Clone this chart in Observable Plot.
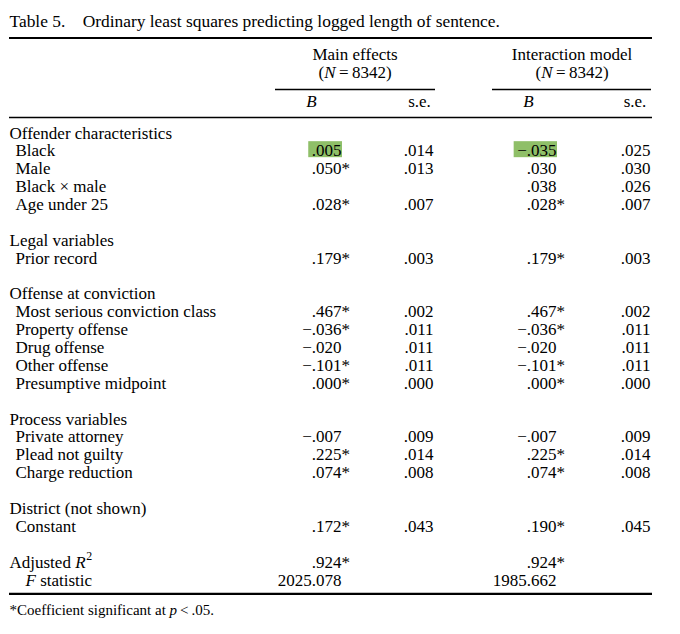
<!DOCTYPE html>
<html><head><meta charset="utf-8">
<script src="https://cdn.jsdelivr.net/npm/d3@7"></script>
<script src="https://cdn.jsdelivr.net/npm/@observablehq/plot@0.6"></script>
<style>html,body{margin:0;padding:0;background:#fff;} svg{display:block;}</style>
</head><body><div id="chart"></div>
<script>
// ---------------- DATA ----------------
const title = "Table 5.\u2003Ordinary least squares predicting logged length of sentence.";
const modelNames = ["Main effects", "Interaction model"];
const modelN = ["(_N_\u2009=\u20098342)", "(_N_\u2009=\u20098342)"];
const columnHeads = ["B", "s.e."];
const sections = ["Offender characteristics", "Legal variables", "Offense at conviction", "Process variables", "District (not shown)"];
const variables = ["Black", "Male", "Black \u00d7 male", "Age under 25", "Prior record",
  "Most serious conviction class", "Property offense", "Drug offense", "Other offense", "Presumptive midpoint",
  "Private attorney", "Plead not guilty", "Charge reduction", "Constant"];
const variableSection = [0, 0, 0, 0, 1, 2, 2, 2, 2, 2, 3, 3, 3, 4];
const mainB   = [".005", ".050*", "", ".028*", ".179*", ".467*", "\u2212.036*", "\u2212.020", "\u2212.101*", ".000*", "\u2212.007", ".225*", ".074*", ".172*"];
const mainSE  = [".014", ".013", "", ".007", ".003", ".002", ".011", ".011", ".011", ".000", ".009", ".014", ".008", ".043"];
const interB  = ["\u2212.035", ".030", ".038", ".028*", ".179*", ".467*", "\u2212.036*", "\u2212.020", "\u2212.101*", ".000*", "\u2212.007", ".225*", ".074*", ".190*"];
const interSE = [".025", ".030", ".026", ".007", ".003", ".002", ".011", ".011", ".011", ".000", ".009", ".014", ".008", ".045"];
const fitLabels = ["Adjusted _R_^2", "_F_ statistic"];
const mainFit  = [".924*", "2025.078"];
const interFit = [".924*", "1985.662"];
const highlightedVariable = "Black";
const footnote = "*Coefficient significant at _p_\u2009<\u2009.05.";

// ---------------- LAYOUT ----------------
const FONT = "'Liberation Serif', 'Times New Roman', Times, serif";
const FS = 17;
const HL = "#8fbf68";
const left = 9, right = 652;
const indent = {section: 9, item: 15, sub: 25};
const rowTop = 138, rowStep = 17.88;
const rowY = r => rowTop + r * rowStep;
const colRight = {mainB: 341, mainSE: 433, interB: 556, interSE: 650};
const headCenter = [354.5, 571.5];
const subHeadX = [[311, 419], [528, 634.5]];
const underline = [[275, 435], [492, 651]];

// Build rows
const rows = [];
let r = 0;
sections.forEach((s, si) => {
  rows.push({label: s, level: "section", row: r++});
  variables.forEach((v, vi) => {
    if (variableSection[vi] !== si) return;
    rows.push({label: v, level: "item", row: r++, mainB: mainB[vi], mainSE: mainSE[vi], interB: interB[vi], interSE: interSE[vi]});
  });
  r++; // blank line
});
fitLabels.forEach((f, fi) => {
  rows.push({label: f, level: fi === 0 ? "section" : "sub", row: r++, mainB: mainFit[fi], interB: interFit[fi]});
});

const cells = [];
rows.forEach(d => {
  for (const key of ["mainB", "mainSE", "interB", "interSE"]) {
    const v = d[key];
    if (!v) continue;
    const star = v.endsWith("*");
    cells.push({x: colRight[key], y: rowY(d.row), num: star ? v.slice(0, -1) : v, star: star ? "*" : "", hl: d.label === highlightedVariable && key.endsWith("B")});
  }
});

const ctx = document.createElement("canvas").getContext("2d");
ctx.font = `${FS}px ${FONT}`;
const tw = s => ctx.measureText(s).width;

const headerTexts = [];
modelNames.forEach((m, i) => {
  headerTexts.push({x: headCenter[i], y: 59, text: m, italic: false});
  headerTexts.push({x: headCenter[i], y: 77, text: modelN[i], italic: false});
  headerTexts.push({x: subHeadX[i][0], y: 106, text: columnHeads[0], italic: true});
  headerTexts.push({x: subHeadX[i][1], y: 106, text: columnHeads[1], italic: false});
});

const common = {fontFamily: FONT, fontSize: FS, fill: "black", lineAnchor: "bottom"};

const chart = Plot.plot({
  width: 680, height: 634, margin: 0,
  x: {type: "linear", domain: [0, 680], range: [0, 680], axis: null},
  y: {type: "linear", domain: [0, 634], range: [0, 634], axis: null},
  style: {fontFamily: FONT, fontSize: FS + "px", background: "white", color: "black"},
  marks: [
    Plot.rect(cells.filter(d => d.hl), {x1: d => d.x - tw(d.num) - 3, x2: d => d.x + 1, y1: d => d.y - 14.7, y2: d => d.y + 1.3, fill: HL}),
    Plot.text([title], {x: left, y: 26.5, text: d => d, textAnchor: "start", ...common, fontSize: 17.4}),
    Plot.ruleY([37.5], {x1: left, x2: right, stroke: "black", strokeWidth: 2.2}),
    Plot.text(headerTexts.filter(d => !d.italic), {x: "x", y: "y", text: "text", textAnchor: "middle", ...common}),
    Plot.text(headerTexts.filter(d => d.italic), {x: "x", y: "y", text: "text", textAnchor: "middle", fontStyle: "italic", ...common}),
    Plot.ruleY(underline, {y: () => 89, x1: d => d[0], x2: d => d[1], stroke: "black", strokeWidth: 1.3}),
    Plot.ruleY([117], {x1: left, x2: right, stroke: "black", strokeWidth: 1.5}),
    Plot.text(rows, {x: d => indent[d.level], y: d => rowY(d.row), text: "label", textAnchor: "start", ...common}),
    Plot.text(cells, {x: "x", y: "y", text: "num", textAnchor: "end", ...common}),
    Plot.text(cells.filter(d => d.star), {x: "x", y: "y", text: "star", textAnchor: "start", ...common}),
    Plot.ruleY([593.3], {x1: left, x2: right, stroke: "black", strokeWidth: 2.2}),
    Plot.text([footnote], {x: left, y: 614, text: d => d, textAnchor: "start", ...common, fontSize: 15})
  ]
});

// Rich text: _x_ => italic, ^x => superscript
chart.querySelectorAll("text").forEach(t => {
  const s = t.textContent;
  if (!/[_^]/.test(s)) return;
  t.textContent = "";
  const parts = s.split(/(_[^_]+_|\^\S+)/).filter(p => p !== "");
  const NS = "http://www.w3.org/2000/svg";
  parts.forEach(p => {
    const sp = document.createElementNS(NS, "tspan");
    if (p.startsWith("_") && p.endsWith("_") && p.length > 2) {
      sp.setAttribute("font-style", "italic");
      sp.textContent = p.slice(1, -1);
    } else if (p.startsWith("^")) {
      sp.setAttribute("font-size", "0.7em");
      sp.setAttribute("dy", "-0.65em");
      sp.setAttribute("dx", "0.05em");
      sp.textContent = p.slice(1);
    } else {
      sp.textContent = p;
    }
    t.appendChild(sp);
  });
});

document.getElementById("chart").appendChild(chart);
</script>
</body></html>
